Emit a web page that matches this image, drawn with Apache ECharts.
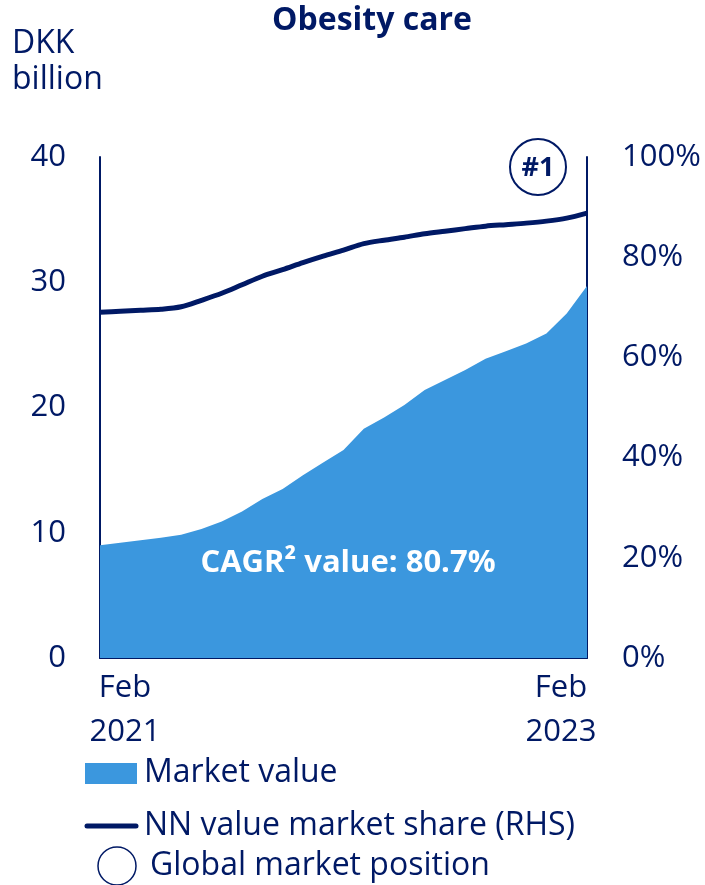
<!DOCTYPE html>
<html>
<head>
<meta charset="utf-8">
<script src="https://cdn.jsdelivr.net/npm/echarts@6/dist/echarts.min.js"></script>
<style>
  html, body { margin: 0; padding: 0; background: #fff; }
  #chart { width: 705px; height: 885px; }
</style>
</head>
<body>
<div id="chart"></div>
<script>
const navy = "#001965";
const blue = "#3b97de";
const font = "Open Sans";

// monthly, Feb 2021 - Feb 2023
const months = [
  "Feb 2021", "Mar 2021", "Apr 2021", "May 2021", "Jun 2021", "Jul 2021",
  "Aug 2021", "Sep 2021", "Oct 2021", "Nov 2021", "Dec 2021", "Jan 2022",
  "Feb 2022", "Mar 2022", "Apr 2022", "May 2022", "Jun 2022", "Jul 2022",
  "Aug 2022", "Sep 2022", "Oct 2022", "Nov 2022", "Dec 2022", "Jan 2023",
  "Feb 2023"
];
// DKK billion
const marketValue = [
  9.0, 9.2, 9.4, 9.6, 9.85, 10.3, 10.9, 11.7, 12.7, 13.5, 14.6, 15.6,
  16.6, 18.3, 19.2, 20.2, 21.4, 22.2, 23.0, 23.9, 24.5, 25.1, 25.9, 27.5, 29.7
];
// %
const marketShare = [
  69.0, 69.2, 69.4, 69.6, 70.1, 71.4, 72.8, 74.5, 76.2, 77.5, 78.9, 80.2,
  81.4, 82.7, 83.4, 84.0, 84.7, 85.2, 85.7, 86.2, 86.5, 86.8, 87.2, 87.8, 88.8
];
const leftTicks = { min: 0, max: 40, interval: 10 };
const rightTicks = { min: 0, max: 100, interval: 20 };
const seriesNames = ["Market value", "NN value market share (RHS)", "Global market position"];

const chart = echarts.init(document.getElementById("chart"));

const option = {
  animation: false,
  textStyle: { fontFamily: font },
  title: {
    text: "Obesity care",
    left: 267,
    top: 0,
    textStyle: { color: navy, fontSize: 32, fontWeight: "bold", fontFamily: font }
  },
  grid: { left: 100, right: 118, top: 157, bottom: 227 },
  xAxis: {
    type: "category",
    data: months,
    boundaryGap: false,
    axisLine: { lineStyle: { color: navy, width: 2 } },
    axisTick: { show: false },
    axisLabel: {
      interval: (i) => i === 0 || i === months.length - 1,
      showMinLabel: true,
      showMaxLabel: true,
      alignMinLabel: "center",
      alignMaxLabel: "center",
      margin: 8,
      formatter: (v, i) => {
        const p = v.split(" ");
        const k = i === 0 ? "a" : "b";
        return "{" + k + "|" + p[0] + "}\n{" + k + "|" + p[1] + "}";
      },
      rich: {
        a: { color: navy, fontSize: 31, fontFamily: font, lineHeight: 44, align: "center", padding: [0, 0, 0, 50] },
        b: { color: navy, fontSize: 31, fontFamily: font, lineHeight: 44, align: "center", padding: [0, 52, 0, 0] }
      }
    }
  },
  yAxis: [
    {
      type: "value",
      min: leftTicks.min,
      max: leftTicks.max,
      interval: leftTicks.interval,
      axisLine: { show: true, lineStyle: { color: navy, width: 2 } },
      axisTick: { show: false },
      splitLine: { show: false },
      axisLabel: { color: navy, fontSize: 31, margin: 34, fontFamily: font }
    },
    {
      type: "value",
      min: rightTicks.min,
      max: rightTicks.max,
      interval: rightTicks.interval,
      position: "right",
      axisLine: { show: true, lineStyle: { color: navy, width: 2 } },
      axisTick: { show: false },
      splitLine: { show: false },
      axisLabel: { color: navy, fontSize: 31, margin: 35, fontFamily: font, formatter: "{value}%" }
    }
  ],
  series: [
    {
      name: seriesNames[0],
      type: "line",
      data: marketValue,
      symbol: "none",
      lineStyle: { width: 0 },
      areaStyle: { color: blue, opacity: 1 },
      z: 1
    },
    {
      name: seriesNames[1],
      type: "line",
      yAxisIndex: 1,
      data: marketShare,
      symbol: "none",
      smooth: 0.3,
      lineStyle: { color: navy, width: 5 },
      z: 3
    }
  ],
  graphic: [
    {
      type: "text", left: 12, top: 26,
      style: { text: "DKK\nbillion", fill: navy, fontSize: 32, lineHeight: 36, fontFamily: font }
    },
    {
      type: "text", x: 348, y: 563,
      style: { text: "CAGR² value: 80.7%", fill: "#fff", fontSize: 31, fontWeight: "bold", fontFamily: font, align: "center", verticalAlign: "middle" },
      z: 10
    },
    {
      type: "circle", shape: { cx: 538, cy: 167, r: 28 },
      style: { fill: "#fff", stroke: navy, lineWidth: 2 }, z: 10
    },
    {
      type: "text", x: 538, y: 168,
      style: { text: "#1", fill: navy, fontSize: 27, fontWeight: "bold", fontFamily: font, align: "center", verticalAlign: "middle" },
      z: 11
    },
    // legend
    { type: "rect", shape: { x: 85, y: 763, width: 52, height: 21 }, style: { fill: blue } },
    {
      type: "text", x: 144, y: 773,
      style: { text: seriesNames[0], fill: navy, fontSize: 32, fontFamily: font, verticalAlign: "middle" }
    },
    { type: "line", shape: { x1: 87, y1: 826, x2: 136, y2: 826 }, style: { stroke: navy, lineWidth: 5, lineCap: "round" } },
    {
      type: "text", x: 144, y: 826,
      style: { text: seriesNames[1], fill: navy, fontSize: 32, fontFamily: font, verticalAlign: "middle" }
    },
    { type: "circle", shape: { cx: 117, cy: 866, r: 19 }, style: { fill: "#fff", stroke: navy, lineWidth: 1.5 } },
    {
      type: "text", x: 150, y: 866,
      style: { text: seriesNames[2], fill: navy, fontSize: 32, fontFamily: font, verticalAlign: "middle" }
    }
  ]
};

chart.setOption(option);
</script>
</body>
</html>
